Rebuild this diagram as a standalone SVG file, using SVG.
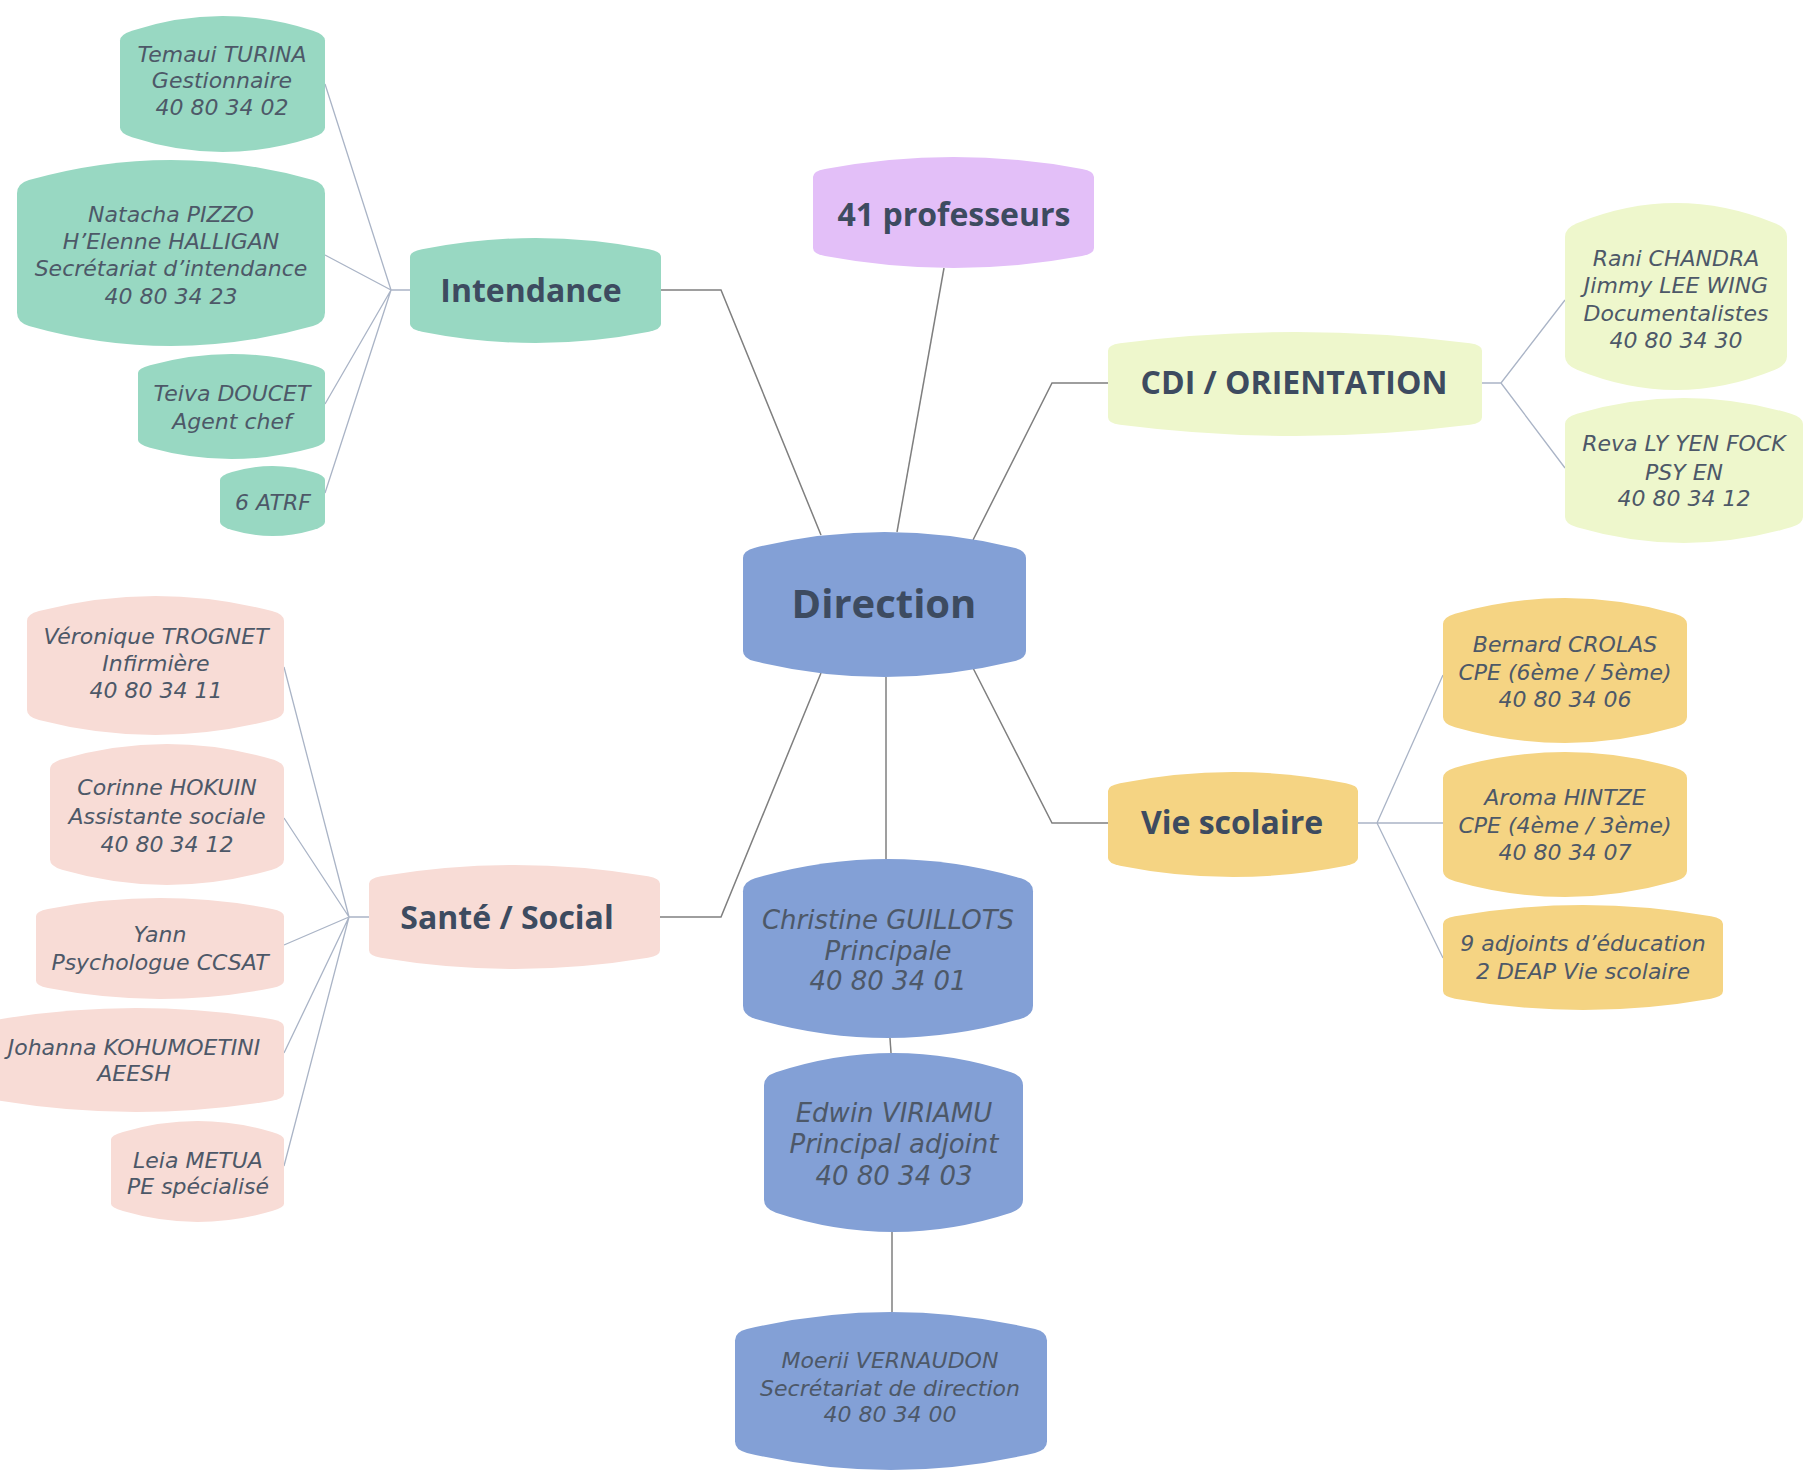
<svg xmlns="http://www.w3.org/2000/svg" width="1812" height="1477" viewBox="0 0 1812 1477">
<style>
.main{fill:none;stroke:#7f7f7f;stroke-width:1.5}
.sub{fill:none;stroke:#aab4c6;stroke-width:1.3}
.t{font-family:"DejaVu Sans","Liberation Sans",sans-serif;font-style:italic;font-size:22px;fill:#4d5868;text-anchor:middle}
.tl{font-size:26px}
.h{font-family:"Open Sans","DejaVu Sans",sans-serif;font-weight:700;font-size:32px;fill:#3d4b60;text-anchor:middle}
.green{fill:#98d8c2}.purple{fill:#e3bff8}.lime{fill:#eef7cc}.blue{fill:#83a0d6}.yellow{fill:#f5d483}.pink{fill:#f8dcd6}
</style>
<rect width="1812" height="1477" fill="#ffffff"/>
<g id="connectors">
<path class="main" d="M821 535 L721 290 L661 290"/>
<path class="main" d="M897 532 L944 268"/>
<path class="main" d="M973 540 L1052 383 L1108 383"/>
<path class="main" d="M973 668 L1052 823 L1108 823"/>
<path class="main" d="M821 673 L721 917 L660 917"/>
<path class="main" d="M886 677 L886 859"/>
<path class="main" d="M890 1038 L891 1053"/>
<path class="main" d="M892 1232 L892 1312"/>
<path class="sub" d="M410 290 L391 290 M391 290 L325 84 M391 290 L325 255 M391 290 L325 404 M391 290 L325 493"/>
<path class="sub" d="M1482 383 L1501 383 M1501 383 L1565 300 M1501 383 L1565 468"/>
<path class="sub" d="M1358 823 L1377 823 M1377 823 L1443 675 M1377 823 L1443 823 M1377 823 L1443 958"/>
<path class="sub" d="M369 917 L349 917 M349 917 L284 667 M349 917 L284 818 M349 917 L284 945 M349 917 L284 1053 M349 917 L284 1166"/>
</g>
<g id="n-direction"><path class="blue" d="M743 558.1 Q743 550.6 755 547.7 Q884.5 516.3 1014 547.7 Q1026 550.6 1026 558.1 L1026 650.9 Q1026 658.4 1014 661.3 Q884.5 692.7 755 661.3 Q743 658.4 743 650.9 Z"/><text class="h" x="884" y="618" style="font-size:40px">Direction</text></g>
<g id="n-intendance"><path class="green" d="M410 256.9 Q410 251.7 422 249.3 Q535.5 226.7 649 249.3 Q661 251.7 661 256.9 L661 324.1 Q661 329.3 649 331.7 Q535.5 354.3 422 331.7 Q410 329.3 410 324.1 Z"/><text class="h" x="531" y="302">Intendance</text></g>
<g id="n-temaui"><path class="green" d="M120 40.5 Q120 34.6 132 30.7 Q222.5 1.3 313 30.7 Q325 34.6 325 40.5 L325 127.5 Q325 133.4 313 137.3 Q222.5 166.7 132 137.3 Q120 133.4 120 127.5 Z"/><text class="t" x="222" y="62">Temaui TURINA</text><text class="t" x="222" y="88">Gestionnaire</text><text class="t" x="222" y="115">40 80 34 02</text></g>
<g id="n-natacha"><path class="green" d="M17 193.5 Q17 183.5 29 180.1 Q171 139.9 313 180.1 Q325 183.5 325 193.5 L325 312.5 Q325 322.5 313 325.9 Q171 366.1 29 325.9 Q17 322.5 17 312.5 Z"/><text class="t" x="171" y="222">Natacha PIZZO</text><text class="t" x="171" y="249">H’Elenne HALLIGAN</text><text class="t" x="171" y="276">Secrétariat d’intendance</text><text class="t" x="171" y="304">40 80 34 23</text></g>
<g id="n-teiva"><path class="green" d="M138 372.9 Q138 368.6 150 365.3 Q231.5 342.7 313 365.3 Q325 368.6 325 372.9 L325 440.1 Q325 444.4 313 447.7 Q231.5 470.3 150 447.7 Q138 444.4 138 440.1 Z"/><text class="t" x="232" y="401">Teiva DOUCET</text><text class="t" x="232" y="429">Agent chef</text></g>
<g id="n-atrf"><path class="green" d="M220 480 Q220 475.6 232 472 Q272.5 460 313 472 Q325 475.6 325 480 L325 522 Q325 526.4 313 530 Q272.5 542 232 530 Q220 526.4 220 522 Z"/><text class="t" x="273" y="510">6 ATRF</text></g>
<g id="n-professeurs"><path class="purple" d="M813 177 Q813 171.2 825 169 Q953.5 145 1082 169 Q1094 171.2 1094 177 L1094 248 Q1094 253.8 1082 256 Q953.5 280 825 256 Q813 253.8 813 248 Z"/><text class="h" x="954" y="226">41 professeurs</text></g>
<g id="n-cdi"><path class="lime" d="M1108 350.7 Q1108 344.7 1120 343.2 Q1295 320.8 1470 343.2 Q1482 344.7 1482 350.7 L1482 417.3 Q1482 423.3 1470 424.8 Q1295 447.2 1120 424.8 Q1108 423.3 1108 417.3 Z"/><text class="h" x="1294" y="394">CDI / ORIENTATION</text></g>
<g id="n-rani"><path class="lime" d="M1565 236.7 Q1565 228.1 1577 223.2 Q1676 182.8 1775 223.2 Q1787 228.1 1787 236.7 L1787 356.3 Q1787 364.9 1775 369.8 Q1676 410.2 1577 369.8 Q1565 364.9 1565 356.3 Z"/><text class="t" x="1676" y="266">Rani CHANDRA</text><text class="t" x="1676" y="293">Jimmy LEE WING</text><text class="t" x="1676" y="321">Documentalistes</text><text class="t" x="1676" y="348">40 80 34 30</text></g>
<g id="n-reva"><path class="lime" d="M1565 424.1 Q1565 417.2 1577 413.7 Q1684 382.3 1791 413.7 Q1803 417.2 1803 424.1 L1803 516.9 Q1803 523.8 1791 527.3 Q1684 558.7 1577 527.3 Q1565 523.8 1565 516.9 Z"/><text class="t" x="1684" y="451">Reva LY YEN FOCK</text><text class="t" x="1684" y="480">PSY EN</text><text class="t" x="1684" y="506">40 80 34 12</text></g>
<g id="n-vie"><path class="yellow" d="M1108 790.9 Q1108 785.7 1120 783.3 Q1233 760.7 1346 783.3 Q1358 785.7 1358 790.9 L1358 858.1 Q1358 863.3 1346 865.7 Q1233 888.3 1120 865.7 Q1108 863.3 1108 858.1 Z"/><text class="h" x="1232" y="834">Vie scolaire</text></g>
<g id="n-bernard"><path class="yellow" d="M1443 624.1 Q1443 617.1 1455 613.7 Q1565 582.3 1675 613.7 Q1687 617.1 1687 624.1 L1687 716.9 Q1687 723.9 1675 727.3 Q1565 758.7 1455 727.3 Q1443 723.9 1443 716.9 Z"/><text class="t" x="1565" y="652">Bernard CROLAS</text><text class="t" x="1565" y="680">CPE (6ème / 5ème)</text><text class="t" x="1565" y="707">40 80 34 06</text></g>
<g id="n-aroma"><path class="yellow" d="M1443 778.1 Q1443 771.1 1455 767.7 Q1565 736.3 1675 767.7 Q1687 771.1 1687 778.1 L1687 870.9 Q1687 877.9 1675 881.3 Q1565 912.7 1455 881.3 Q1443 877.9 1443 870.9 Z"/><text class="t" x="1565" y="805">Aroma HINTZE</text><text class="t" x="1565" y="833">CPE (4ème / 3ème)</text><text class="t" x="1565" y="860">40 80 34 07</text></g>
<g id="n-adjoints"><path class="yellow" d="M1443 923.9 Q1443 918.4 1455 916.3 Q1583 893.7 1711 916.3 Q1723 918.4 1723 923.9 L1723 991.1 Q1723 996.6 1711 998.7 Q1583 1021.3 1455 998.7 Q1443 996.6 1443 991.1 Z"/><text class="t" x="1583" y="951">9 adjoints d’éducation</text><text class="t" x="1583" y="979">2 DEAP Vie scolaire</text></g>
<g id="n-sante"><path class="pink" d="M369 883.7 Q369 878.2 381 876.2 Q514.5 853.8 648 876.2 Q660 878.2 660 883.7 L660 950.3 Q660 955.8 648 957.8 Q514.5 980.2 381 957.8 Q369 955.8 369 950.3 Z"/><text class="h" x="507" y="929">Santé / Social</text></g>
<g id="n-veronique"><path class="pink" d="M27 621 Q27 614.1 39 611 Q155.5 581 272 611 Q284 614.1 284 621 L284 710 Q284 716.9 272 720 Q155.5 750 39 720 Q27 716.9 27 710 Z"/><text class="t" x="156" y="644">Véronique TROGNET</text><text class="t" x="156" y="671">Infirmière</text><text class="t" x="156" y="698">40 80 34 11</text></g>
<g id="n-corinne"><path class="pink" d="M50 769.4 Q50 762.7 62 759.2 Q167 728.8 272 759.2 Q284 762.7 284 769.4 L284 859.6 Q284 866.3 272 869.8 Q167 900.2 62 869.8 Q50 866.3 50 859.6 Z"/><text class="t" x="167" y="795">Corinne HOKUIN</text><text class="t" x="167" y="824">Assistante sociale</text><text class="t" x="167" y="852">40 80 34 12</text></g>
<g id="n-yann"><path class="pink" d="M36 916.2 Q36 911.2 48 908.9 Q160 887.1 272 908.9 Q284 911.2 284 916.2 L284 980.8 Q284 985.8 272 988.1 Q160 1009.9 48 988.1 Q36 985.8 36 980.8 Z"/><text class="t" x="160" y="942">Yann</text><text class="t" x="160" y="970">Psychologue CCSAT</text></g>
<g id="n-johanna"><path class="pink" d="M-12 1026.7 Q-12 1021.2 0 1019.2 Q136 996.8 272 1019.2 Q284 1021.2 284 1026.7 L284 1093.3 Q284 1098.8 272 1100.8 Q136 1123.2 0 1100.8 Q-12 1098.8 -12 1093.3 Z"/><text class="t" x="134" y="1055">Johanna KOHUMOETINI</text><text class="t" x="134" y="1081">AEESH</text></g>
<g id="n-leia"><path class="pink" d="M111 1139.2 Q111 1135.4 123 1131.9 Q197.5 1110.1 272 1131.9 Q284 1135.4 284 1139.2 L284 1203.8 Q284 1207.6 272 1211.1 Q197.5 1232.9 123 1211.1 Q111 1207.6 111 1203.8 Z"/><text class="t" x="198" y="1168">Leia METUA</text><text class="t" x="198" y="1194">PE spécialisé</text></g>
<g id="n-christine"><path class="blue" d="M743 891.2 Q743 881.8 755 878.3 Q888 839.7 1021 878.3 Q1033 881.8 1033 891.2 L1033 1005.8 Q1033 1015.2 1021 1018.7 Q888 1057.3 755 1018.7 Q743 1015.2 743 1005.8 Z"/><text class="t tl" x="888" y="929">Christine GUILLOTS</text><text class="t tl" x="888" y="960">Principale</text><text class="t tl" x="888" y="990">40 80 34 01</text></g>
<g id="n-edwin"><path class="blue" d="M764 1085.2 Q764 1076.2 776 1072.3 Q893.5 1033.7 1011 1072.3 Q1023 1076.2 1023 1085.2 L1023 1199.8 Q1023 1208.8 1011 1212.7 Q893.5 1251.3 776 1212.7 Q764 1208.8 764 1199.8 Z"/><text class="t tl" x="894" y="1122">Edwin VIRIAMU</text><text class="t tl" x="894" y="1153">Principal adjoint</text><text class="t tl" x="894" y="1185">40 80 34 03</text></g>
<g id="n-moerii"><path class="blue" d="M735 1340.4 Q735 1332 747 1329.1 Q891 1294.9 1035 1329.1 Q1047 1332 1047 1340.4 L1047 1441.6 Q1047 1450 1035 1452.9 Q891 1487.1 747 1452.9 Q735 1450 735 1441.6 Z"/><text class="t" x="890" y="1368">Moerii VERNAUDON</text><text class="t" x="890" y="1396">Secrétariat de direction</text><text class="t" x="890" y="1422">40 80 34 00</text></g>
</svg>
